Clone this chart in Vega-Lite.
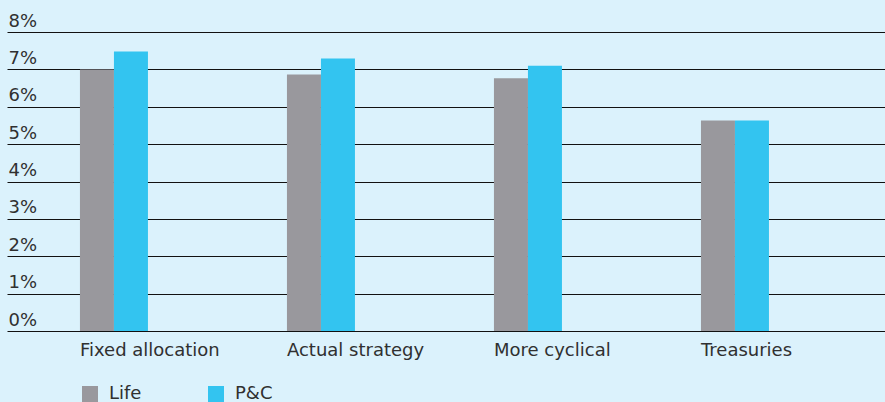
{
  "$schema": "https://vega.github.io/schema/vega-lite/v6.json",
  "width": 878,
  "height": 299,
  "autosize": "none",
  "padding": {"left": 7, "top": 32, "right": 0, "bottom": 71},
  "background": "#dbf2fc",
  "config": {
    "view": {"stroke": null},
    "font": "DejaVu Sans"
  },
  "data": {
    "values": [
      {"strategy": "Fixed allocation", "type": "Life", "value": 7.0},
      {"strategy": "Fixed allocation", "type": "P&C", "value": 7.48},
      {"strategy": "Actual strategy", "type": "Life", "value": 6.86},
      {"strategy": "Actual strategy", "type": "P&C", "value": 7.29},
      {"strategy": "More cyclical", "type": "Life", "value": 6.76},
      {"strategy": "More cyclical", "type": "P&C", "value": 7.1},
      {"strategy": "Treasuries", "type": "Life", "value": 5.63},
      {"strategy": "Treasuries", "type": "P&C", "value": 5.63}
    ]
  },
  "mark": {"type": "bar"},
  "encoding": {
    "x": {
      "field": "strategy",
      "type": "nominal",
      "sort": ["Fixed allocation", "Actual strategy", "More cyclical", "Treasuries"],
      "scale": {"paddingInner": 0.6715, "paddingOuter": 0.4565, "align": 0.386},
      "axis": {
        "title": null,
        "domain": false,
        "ticks": false,
        "labelAlign": "left",
        "labelAngle": 0,
        "labelOffset": -34,
        "labelPadding": 10,
        "labelFontSize": 18,
        "labelColor": "#303030"
      }
    },
    "xOffset": {"field": "type", "type": "nominal", "scale": {"paddingInner": 0, "paddingOuter": 0}},
    "y": {
      "field": "value",
      "type": "quantitative",
      "scale": {"domain": [0, 8], "nice": false},
      "axis": {
        "title": null,
        "domain": false,
        "ticks": false,
        "values": [0, 1, 2, 3, 4, 5, 6, 7, 8],
        "labelOverlap": false,
        "labelExpr": "datum.value + '%'",
        "labelAlign": "left",
        "labelBaseline": "alphabetic",
        "labelPadding": -1,
        "labelOffset": -6,
        "labelFontSize": 18,
        "labelColor": "#303030",
        "grid": true,
        "gridColor": "#111111",
        "gridWidth": 1,
        "gridOpacity": 1
      }
    },
    "color": {
      "field": "type",
      "type": "nominal",
      "scale": {"domain": ["Life", "P&C"], "range": ["#99989d", "#33c4f0"]},
      "legend": {
        "title": null,
        "orient": "none",
        "legendX": 74,
        "legendY": 353,
        "direction": "horizontal",
        "symbolType": "square",
        "symbolSize": 256,
        "symbolStrokeWidth": 0,
        "labelFontSize": 18,
        "labelColor": "#303030",
        "labelOffset": 10,
        "columnPadding": 65
      }
    }
  }
}
